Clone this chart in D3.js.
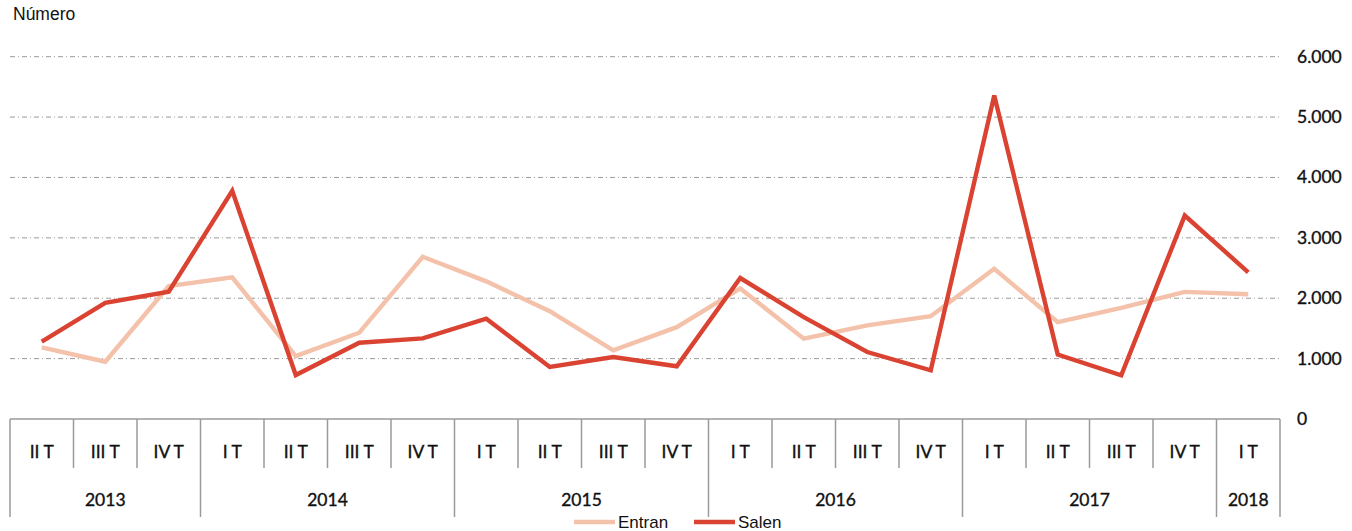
<!DOCTYPE html>
<html><head><meta charset="utf-8">
<script src="https://cdn.jsdelivr.net/npm/d3@7"></script>
<style>body{margin:0;background:#fff}svg{display:block}</style>
</head><body>
<svg id="c" width="1352" height="531"></svg>
<script>
const years = ["2013","2014","2015","2016","2017","2018"];
const quarters = ["II T","III T","IV T","I T","II T","III T","IV T","I T","II T","III T","IV T","I T","II T","III T","IV T","I T","II T","III T","IV T","I T"];
const quarterYear = ["2013","2013","2013","2014","2014","2014","2014","2015","2015","2015","2015","2016","2016","2016","2016","2017","2017","2017","2017","2018"];
const entran = [1187,949,2202,2346,1043,1429,2687,2280,1785,1137,1521,2162,1330,1550,1702,2487,1605,1840,2105,2066];
const salen  = [1280,1925,2108,3780,728,1263,1336,1660,861,1026,873,2335,1687,1109,807,5359,1066,724,3369,2430];
const yTicks = [0,1000,2000,3000,4000,5000,6000];
const seriesNames = ["Entran","Salen"];
const colors = {Entran:"#F4C1AA", Salen:"#DA4332"};

const svg = d3.select("#c");
const x = d3.scaleBand().domain(d3.range(quarters.length)).range([10,1280]).padding(0);
const y = d3.scaleLinear().domain([0,6000]).range([419,56.7]);
const fmt = v => d3.format(",")(v).replace(/,/g,".");
const calFont = "Lato, 'Open Sans', sans-serif";

// gridlines
svg.append("g").selectAll("line").data(yTicks.filter(d=>d>0)).join("line")
  .attr("x1",10).attr("x2",1280).attr("y1",d=>y(d)).attr("y2",d=>y(d))
  .attr("stroke","#9a9a9a").attr("stroke-width",1).attr("stroke-dasharray","5,3,1,3");

// y axis labels (right)
svg.append("g").selectAll("text").data(yTicks).join("text")
  .attr("x",1297).attr("y",d=>y(d)+6).text(fmt)
  .attr("font-family",calFont).attr("font-size",17.5).attr("fill","#111")
  .attr("stroke","#111").attr("stroke-width",0.35);

// "Número"
svg.append("text").attr("x",13).attr("y",20).text("Número")
  .attr("font-family","'Liberation Sans', Arial, sans-serif").attr("font-size",17.5).attr("fill","#111");

// category axis
const ax = svg.append("g");
const axisColor = "#9a9a9a";
ax.append("line").attr("x1",10).attr("x2",1280).attr("y1",419).attr("y2",419).attr("stroke",axisColor).attr("stroke-width",1.5);
const boundaries = d3.range(quarters.length+1);
boundaries.forEach(i=>{
  const bx = i<quarters.length ? x(i) : x(quarters.length-1)+x.bandwidth();
  const isYear = i===0 || i===quarters.length || quarterYear[i]!==quarterYear[i-1];
  ax.append("line").attr("x1",bx).attr("x2",bx).attr("y1",419).attr("y2",isYear?517:468)
    .attr("stroke",axisColor).attr("stroke-width",1.5);
});
ax.selectAll("text.q").data(quarters).join("text").attr("class","q")
  .attr("x",(d,i)=>x(i)+x.bandwidth()/2).attr("y",458).attr("text-anchor","middle").text(d=>d)
  .attr("font-family",calFont).attr("font-size",17.5).attr("fill","#111")
  .attr("stroke","#111").attr("stroke-width",0.35);
years.forEach(yr=>{
  const idx = quarterYear.map((q,i)=>q===yr?i:-1).filter(i=>i>=0);
  const x0 = x(idx[0]), x1 = x(idx[idx.length-1])+x.bandwidth();
  ax.append("text").attr("x",(x0+x1)/2).attr("y",506).attr("text-anchor","middle").text(yr)
    .attr("font-family",calFont).attr("font-size",17.5).attr("fill","#111")
    .attr("stroke","#111").attr("stroke-width",0.35);
});

// lines
const line = d3.line().x((d,i)=>x(i)+x.bandwidth()/2).y(d=>y(d));
[["Entran",entran],["Salen",salen]].forEach(([name,vals])=>{
  svg.append("path").datum(vals).attr("d",line).attr("fill","none")
    .attr("stroke",colors[name]).attr("stroke-width",4.4).attr("stroke-linejoin","miter");
});

// legend
const lg = svg.append("g");
const lx = [574,694];
seriesNames.forEach((n,i)=>{
  lg.append("line").attr("x1",lx[i]).attr("x2",lx[i]+41).attr("y1",522).attr("y2",522)
    .attr("stroke",colors[n]).attr("stroke-width",4.4);
  lg.append("text").attr("x",lx[i]+44).attr("y",527.5).text(n)
    .attr("font-family","'Liberation Sans', Arial, sans-serif").attr("font-size",17).attr("fill","#111");
});
</script>
</body></html>
